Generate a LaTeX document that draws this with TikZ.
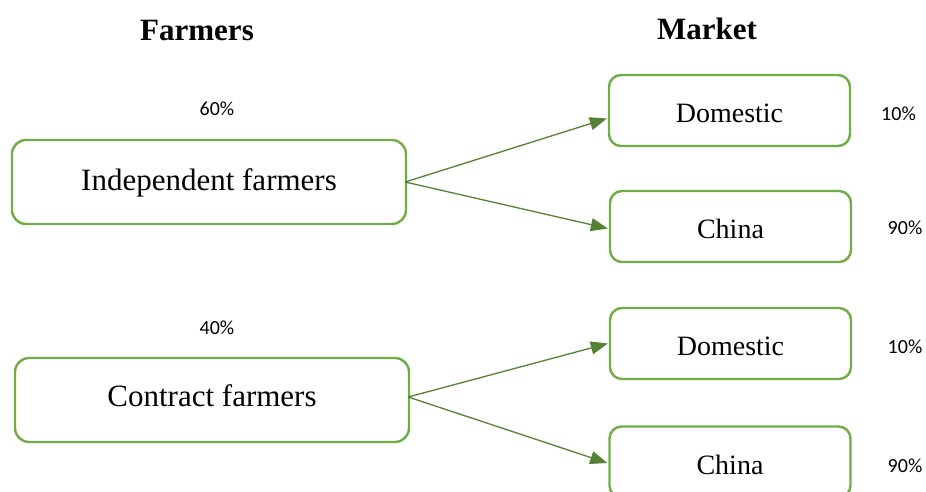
\documentclass[tikz,border=0pt]{standalone}
\usepackage{fontspec}
\setmainfont{Liberation Serif}
\newfontfamily\pctfont{Carlito}
\usetikzlibrary{arrows.meta,calc}
\definecolor{boxgreen}{HTML}{70AD47}
\definecolor{arrowgreen}{HTML}{548235}
\tikzset{
  farmbox/.style={draw=boxgreen, line width=2.4pt, rounded corners=14pt,
    minimum width=394pt, minimum height=84pt, inner sep=0pt,
    text height=22pt, text depth=6pt,
    font=\fontsize{31}{31}\selectfont},
  marketbox/.style={draw=boxgreen, line width=2.4pt, rounded corners=12pt,
    minimum width=241pt, minimum height=71pt, inner sep=0pt,
    text height=26pt, text depth=1.4pt,
    font=\fontsize{28}{28}\selectfont},
  heading/.style={font=\bfseries\fontsize{31}{31}\selectfont, inner sep=0pt},
  pct/.style={font=\pctfont\fontsize{20}{20}\selectfont, inner sep=0pt},
  flow/.style={draw=arrowgreen, line width=1.3pt,
    -{Triangle[length=17pt,width=13pt]}}
}
\begin{document}
\begin{tikzpicture}[x=1pt,y=-1pt]
  \useasboundingbox (0,0) rectangle (926,492);
  \clip (0,0) rectangle (926,492);

  % column headings
  \node[heading] (hfarm) at (197,31) {Farmers};
  \node[heading] (hmarket) at (707,29) {Market};

  % farmer groups
  \node[farmbox] (ind) at (209,182) {Independent farmers};
  \node[farmbox, text height=20pt, text depth=8pt] (con) at (212,400) {Contract farmers};
  \node[pct] (p60) at (217,109) {60\%};
  \node[pct] (p40) at (217,328) {40\%};

  % market destinations
  \node[marketbox] (dom1) at (729.5,110.5) {Domestic};
  \node[marketbox] (chi1) at (730.5,226.5) {China};
  \node[marketbox] (dom2) at (730.5,343.5) {Domestic};
  \node[marketbox] (chi2) at (730,462) {China};
  \node[pct] (p10a) at (898.5,114) {10\%};
  \node[pct] (p90a) at (905,228) {90\%};
  \node[pct] (p10b) at (905,347) {10\%};
  \node[pct] (p90b) at (905,466) {90\%};

  % flows
  \draw[flow] ($(ind.east)+(-2,0)$) -- ($(dom1.west)+(-1,8)$);
  \draw[flow] ($(ind.east)+(-2,0)$) -- ($(chi1.west)+(-1,2)$);
  \draw[flow] ($(con.east)+(-2,-3)$) -- ($(dom2.west)+(-1,0)$);
  \draw[flow] ($(con.east)+(-2,-3)$) -- ($(chi2.west)+(-1,1)$);
\end{tikzpicture}
\end{document}
